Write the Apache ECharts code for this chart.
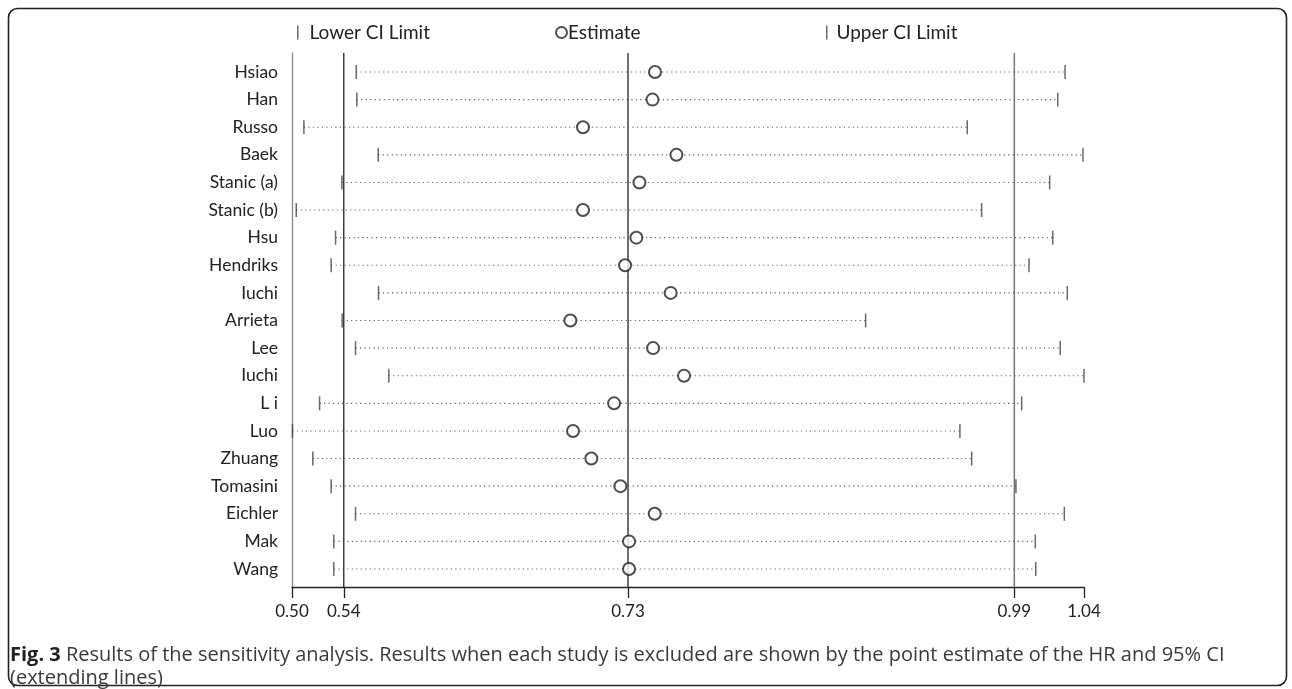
<!DOCTYPE html>
<html>
<head>
<meta charset="utf-8">
<title>Sensitivity analysis</title>
<script src="https://cdn.jsdelivr.net/npm/echarts@6/dist/echarts.min.js"></script>
<style>
  html, body { margin: 0; padding: 0; background: #fff; }
  #chart { width: 1292px; height: 689px; }
</style>
</head>
<body>
<div id="chart"></div>
<script>
// studies, top to bottom
const studies = ['Hsiao', 'Han', 'Russo', 'Baek', 'Stanic (a)', 'Stanic (b)', 'Hsu', 'Hendriks', 'Iuchi', 'Arrieta',
  'Lee', 'Iuchi', 'L i', 'Luo', 'Zhuang', 'Tomasini', 'Eichler', 'Mak', 'Wang']
const lowerCI = [0.5438, 0.5442, 0.5081, 0.5588, 0.5340, 0.5029, 0.5297, 0.5267, 0.5590, 0.5342,
  0.5433, 0.5660, 0.5188, 0.5003, 0.5142, 0.5267, 0.5433, 0.5285, 0.5285]
const estimate = [0.7475, 0.7458, 0.6984, 0.7621, 0.7369, 0.6984, 0.7348, 0.7271, 0.7582, 0.6898,
  0.7462, 0.7673, 0.7196, 0.6916, 0.7041, 0.7239, 0.7473, 0.7298, 0.7298]
const upperCI = [1.0271, 1.0221, 0.9604, 1.0393, 1.0166, 0.9702, 1.0187, 1.0025, 1.0286, 0.8911,
  1.0238, 1.0400, 0.9975, 0.9554, 0.9634, 0.9936, 1.0266, 1.0068, 1.0071]
// x tick labels: axis ends plus the pooled lower / estimate / upper
const tickValues = [0.50, 0.5353, 0.7291, 0.9925, 1.04]
const pooledValues = [0.5353, 0.7291, 0.9925]
const pooledColors = ['#222', '#222', '#777']

const captionBold = 'Fig. 3'
const captionRest = ' Results of the sensitivity analysis. Results when each study is excluded are shown by the point estimate of the HR and 95% CI'
const captionLine2 = '(extending lines)'

const dom = echarts.init(document.getElementById('chart'))

const rowIdx = studies.map((s, i) => i)
const ciData = rowIdx.map(i => [i, lowerCI[i], upperCI[i]])

const txt = '#222'
const font = 'Lato'
const capFont = 'Open Sans'

// pick a caption size so the first line spans about as wide as in the figure
function captionSize () {
  const ctx = document.createElement('canvas').getContext('2d')
  ctx.font = 'bold 18px "' + capFont + '"'
  let w = ctx.measureText(captionBold).width
  ctx.font = '18px "' + capFont + '"'
  w += ctx.measureText(captionRest).width
  let s = 18 * 1217 / w
  return Math.max(15, Math.min(20, s))
}
const capSize = captionSize()

let option = {
  animation: false,
  grid: { left: 292, right: 208, top: 53, bottom: 102 },
  legend: [
    {
      data: ['Lower CI Limit'], left: 292, top: 18,
      icon: 'rect', itemWidth: 1.5, itemHeight: 14,
      textStyle: { fontFamily: font, fontSize: 19, color: txt, padding: [0, 0, 0, 6] }
    },
    {
      data: ['Estimate'], left: 550, top: 18,
      icon: 'emptyCircle', itemWidth: 11, itemHeight: 11,
      textStyle: { fontFamily: font, fontSize: 19, color: txt, padding: [0, 0, 0, -4] }
    },
    {
      data: ['Upper CI Limit'], left: 821, top: 18,
      icon: 'rect', itemWidth: 1.5, itemHeight: 14,
      textStyle: { fontFamily: font, fontSize: 19, color: txt, padding: [0, 0, 0, 4] }
    }
  ],
  xAxis: {
    type: 'value',
    min: 0.50,
    max: 1.04,
    splitLine: { show: false },
    axisLine: { show: true, onZero: false, lineStyle: { color: '#222', width: 1.3 } },
    axisTick: { show: true, customValues: tickValues, length: 11, lineStyle: { color: '#222', width: 1.3 } },
    axisLabel: {
      customValues: tickValues,
      formatter: v => v.toFixed(2),
      fontFamily: font, fontSize: 17, color: txt, margin: 16
    }
  },
  yAxis: {
    type: 'value',
    inverse: true,
    min: -0.688,
    max: 18.652,
    splitLine: { show: false },
    axisTick: { show: false },
    axisLine: { show: true, onZero: false, lineStyle: { color: '#888', width: 1.3 } },
    axisLabel: {
      customValues: rowIdx,
      formatter: v => studies[v],
      fontFamily: font, fontSize: 17.5, color: txt, margin: 14
    }
  },
  graphic: [
    {
      type: 'rect',
      shape: { x: 8.5, y: 8.5, width: 1278, height: 677, r: 9 },
      style: { fill: 'none', stroke: '#222', lineWidth: 1.6 },
      silent: true
    },
    {
      type: 'text',
      left: 10,
      top: 644,
      style: {
        text: '{b|' + captionBold + '}' + captionRest + '\n' + captionLine2,
        fontFamily: capFont,
        fontSize: capSize,
        lineHeight: 23,
        fill: '#3a3a3a',
        rich: {
          b: { fontFamily: capFont, fontSize: capSize, fontWeight: 'bold', fill: '#222', lineHeight: 23 }
        }
      }
    }
  ],
  series: [
    {
      // pooled reference lines, full plot height
      type: 'custom',
      name: 'pooled',
      data: pooledValues.map((v, i) => [v, i]),
      encode: { x: 0 },
      z: 1,
      renderItem (params, api) {
        const cs = params.coordSys
        const x = api.coord([api.value(0), 0])[0]
        return {
          type: 'line',
          shape: { x1: x, y1: cs.y, x2: x, y2: cs.y + cs.height },
          style: { stroke: pooledColors[api.value(1)], lineWidth: api.value(1) === 2 ? 1.5 : 1.3 }
        }
      }
    },
    {
      type: 'custom',
      name: 'ci',
      data: ciData,
      encode: { x: [1, 2], y: 0 },
      z: 2,
      renderItem (params, api) {
        const a = api.coord([api.value(1), api.value(0)])
        const b = api.coord([api.value(2), api.value(0)])
        return {
          type: 'line',
          shape: { x1: a[0], y1: a[1], x2: b[0], y2: b[1] },
          style: { stroke: '#555', lineWidth: 1.1, lineDash: [1.1, 3.4] }
        }
      }
    },
    {
      type: 'scatter',
      name: 'Lower CI Limit',
      data: rowIdx.map(i => [lowerCI[i], i]),
      symbol: 'rect',
      symbolSize: [1.5, 14],
      itemStyle: { color: '#444' },
      z: 3
    },
    {
      type: 'scatter',
      name: 'Upper CI Limit',
      data: rowIdx.map(i => [upperCI[i], i]),
      symbol: 'rect',
      symbolSize: [1.5, 14],
      itemStyle: { color: '#444' },
      z: 3
    },
    {
      type: 'scatter',
      name: 'Estimate',
      data: rowIdx.map(i => [estimate[i], i]),
      symbol: 'emptyCircle',
      symbolSize: 12,
      itemStyle: { color: '#222', borderColor: '#222', borderWidth: 1.3 },
      z: 4
    }
  ]
}

dom.setOption(option)
window.addEventListener('resize', () => dom.resize())
</script>
</body>
</html>
